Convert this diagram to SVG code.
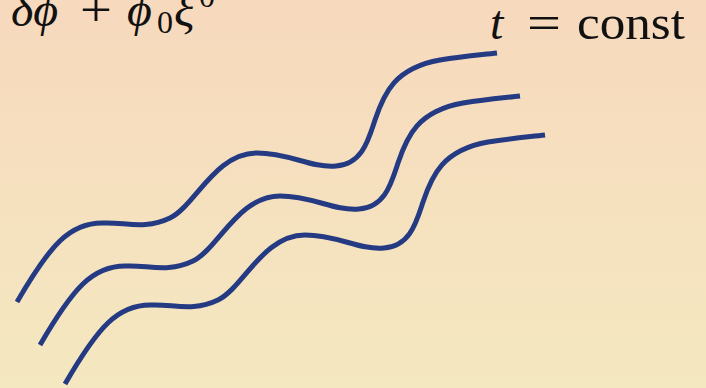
<svg xmlns="http://www.w3.org/2000/svg" width="706" height="388" viewBox="0 0 706 388">
<defs>
<linearGradient id="bg" x1="0" y1="0" x2="0" y2="1">
<stop offset="0" stop-color="#f7d9bd"/>
<stop offset="1" stop-color="#f4e8c0"/>
</linearGradient>
<style>
.w{fill:none;stroke:#243a82;stroke-width:5;stroke-linecap:butt;stroke-linejoin:round}
.m{font-family:"Liberation Serif","DejaVu Serif",serif;font-size:48px;fill:#111}
.i{font-style:italic}
</style>
</defs>
<rect width="706" height="388" fill="url(#bg)"/>
<text class="m" y="26"><tspan class="i" x="11">δϕ</tspan><tspan x="80" textLength="32" lengthAdjust="spacingAndGlyphs">+</tspan><tspan class="i" x="127">ϕ</tspan><tspan x="157" y="33" font-size="32">0</tspan><tspan class="i" x="174" y="26">ξ</tspan><tspan x="199" y="7" font-size="32">0</tspan></text>
<text class="m" y="39" font-size="50"><tspan class="i" x="490">t</tspan><tspan x="527" textLength="34" lengthAdjust="spacingAndGlyphs">=</tspan><tspan x="577" textLength="108" lengthAdjust="spacingAndGlyphs">const</tspan></text>
<g id="connectors">
<path id="w1" class="w" d="M17,302 C50,245 70,222 104,223 C125,222 145,230 170,218 C195,206 215,153 257,153 C290,153 310,168 336,166 C362,164 368,141 375,120 C384,93 395,68 440,60 C465,56 480,55 497,53"/>
<path id="w2" class="w" transform="translate(23,43)" d="M17,302 C50,245 70,222 104,223 C125,222 145,230 170,218 C195,206 215,153 257,153 C290,153 310,168 336,166 C362,164 368,141 375,120 C384,93 395,68 440,60 C465,56 480,55 497,53"/>
<path id="w3" class="w" transform="translate(48,82)" d="M17,302 C50,245 70,222 104,223 C125,222 145,230 170,218 C195,206 215,153 257,153 C290,153 310,168 336,166 C362,164 368,141 375,120 C384,93 395,68 440,60 C465,56 480,55 497,53"/>
</g>
</svg>
